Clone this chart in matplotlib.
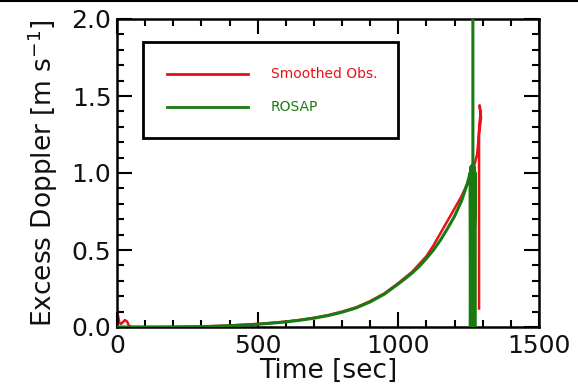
import matplotlib
matplotlib.use("Agg")
import matplotlib.pyplot as plt
from matplotlib.patches import Rectangle
from matplotlib.lines import Line2D
from matplotlib.ticker import MultipleLocator

# Smoothed observations (red)
obs_t = [0, 1, 4, 8, 14, 20, 28, 36, 42, 50, 60, 150, 300, 400, 500, 550, 600, 650,
         700, 750, 800, 850, 900, 950, 1000, 1050, 1100, 1125, 1150, 1175, 1200,
         1225, 1245, 1258, 1270, 1280, 1285, 1288, 1292, 1289, 1294, 1290, 1287, 1287]
obs_v = [0.0, 0.09, 0.07, 0.03, 0.02, 0.03, 0.045, 0.035, 0.01, 0.0, 0.0, 0.0, 0.003,
         0.01, 0.02, 0.027, 0.035, 0.046, 0.06, 0.077, 0.10, 0.128, 0.168, 0.218,
         0.285, 0.36, 0.46, 0.53, 0.61, 0.69, 0.77, 0.85, 0.93, 0.98, 1.05, 1.12,
         1.22, 1.32, 1.38, 1.44, 1.36, 1.30, 1.25, 0.12]

# ROSAP model (green)
mod_t = [0, 200, 300, 400, 500, 550, 600, 650, 700, 750, 800, 850, 900, 950, 1000,
         1025, 1050, 1075, 1100, 1125, 1150, 1175, 1200, 1225, 1245, 1255,
         1256, 1258, 1260, 1262, 1264, 1266, 1268, 1270, 1272, 1274, 1265, 1265]
mod_v = [0.0, 0.0, 0.002, 0.008, 0.018, 0.025, 0.033, 0.044, 0.057, 0.074, 0.096,
         0.124, 0.163, 0.213, 0.28, 0.315, 0.352, 0.395, 0.445, 0.50, 0.565, 0.64,
         0.72, 0.82, 0.93, 1.0,
         0.0, 1.04, 0.0, 1.05, 0.0, 1.05, 0.0, 1.04, 0.0, 1.0, 0.0, 2.5]

xticks = [0, 500, 1000, 1500]
yticks = [0.0, 0.5, 1.0, 1.5, 2.0]
legend_labels = ["Smoothed Obs.", "ROSAP"]
red = "#e8111a"
green = "#1a7a12"

fig = plt.figure(figsize=(5.78, 3.91), dpi=100)
ax = fig.add_axes([117/578, 1 - 327/391, 422/578, 308/391])

ax.plot(obs_t, obs_v, color=red, lw=1.8, zorder=2)
ax.plot(mod_t, mod_v, color=green, lw=2.2, zorder=3)

ax.set_xlim(0, 1500)
ax.set_ylim(0, 2.0)
ax.set_xticks(xticks)
ax.set_xticklabels([str(t) for t in xticks])
ax.set_yticks(yticks)
ax.set_yticklabels([f"{t:.1f}" for t in yticks])
ax.xaxis.set_minor_locator(MultipleLocator(100))
ax.yaxis.set_minor_locator(MultipleLocator(0.1))
ax.tick_params(which="both", direction="in", top=True, right=True, width=1.5,
               labelsize=18, colors="black", labelcolor="#111111")
ax.tick_params(which="major", length=10.5, pad=4)
ax.tick_params(which="minor", length=5)
ax.tick_params(axis="x", which="major", pad=5)
for s in ax.spines.values():
    s.set_linewidth(1.8)

ax.set_xlabel("Time [sec]", fontsize=19, labelpad=0, color="#111111")
ax.set_ylabel(r"Excess Doppler [m s$^{\mathregular{-1}}$]", fontsize=19,
              labelpad=8, color="#111111")

# legend box
ax.add_patch(Rectangle((0.062, 0.614), 0.604, 0.311, transform=ax.transAxes,
                       facecolor="white", edgecolor="black", lw=2.0, zorder=5))
for yy, col, lab in [(0.821, red, legend_labels[0]), (0.714, green, legend_labels[1])]:
    ax.add_line(Line2D([0.118, 0.310], [yy, yy], transform=ax.transAxes,
                       color=col, lw=2.0, zorder=6))
    ax.text(0.365, yy, lab, transform=ax.transAxes, color=col, fontsize=10,
            va="center", ha="left", zorder=6)

# top border line of the figure
fig.add_artist(Line2D([0, 1], [0.998, 0.998], transform=fig.transFigure,
                      color="black", lw=1.5))

fig.savefig("out.png", dpi=100)
